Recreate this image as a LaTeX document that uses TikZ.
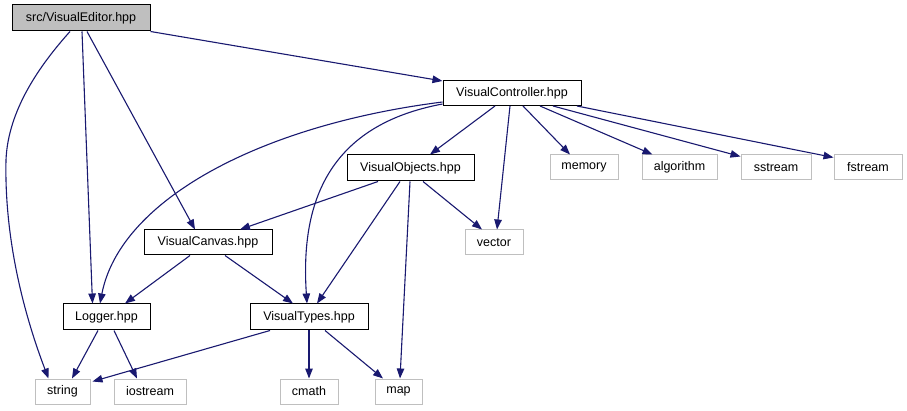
\documentclass[tikz,border=0pt]{standalone}
\usepackage{fontspec}
\setmainfont{Liberation Sans}
\usetikzlibrary{arrows.meta}
\definecolor{edgecol}{HTML}{191970}
\definecolor{sysgray}{HTML}{BFBFBF}
\begin{document}
\begin{tikzpicture}[x=1pt,y=-1pt,
  box/.style={draw=black,line width=1pt,inner sep=0pt,minimum height=25pt,font=\fontsize{12.5}{15}\selectfont},
  sysbox/.style={box,draw=sysgray},
  dep/.style={draw=edgecol,line width=1.1pt,-{Triangle[length=10pt,width=7.5pt]}}]
\useasboundingbox[fill=white] (0,0) rectangle (907,411);
% nodes
\node[box,fill=sysgray,minimum width=138pt,minimum height=26pt] (ve) at (81,18) {src/VisualEditor.hpp};
\node[box,minimum width=138pt] (vc) at (512,93) {VisualController.hpp};
\node[box,minimum width=127pt,minimum height=26pt] (vo) at (410.5,168) {VisualObjects.hpp};
\node[sysbox,minimum width=68pt] (memory) at (584,167.5) {memory};
\node[sysbox,minimum width=75pt] (algorithm) at (679.5,167.5) {algorithm};
\node[sysbox,minimum width=70pt] (sstream) at (776,167.5) {sstream};
\node[sysbox,minimum width=68pt] (fstream) at (868,167.5) {fstream};
\node[box,minimum width=128pt] (vcan) at (208,242.5) {VisualCanvas.hpp};
\node[sysbox,minimum width=58pt] (vector) at (494,242.5) {vector};
\node[box,minimum width=87pt,minimum height=26pt] (logger) at (106.5,317) {Logger.hpp};
\node[box,minimum width=118pt,minimum height=26pt] (vt) at (309,317) {VisualTypes.hpp};
\node[sysbox,minimum width=55pt] (string) at (62.5,391.5) {string};
\node[sysbox,minimum width=72pt] (iostream) at (150,391.5) {iostream};
\node[sysbox,minimum width=58pt] (cmath) at (309,391.5) {cmath};
\node[sysbox,minimum width=47pt] (map) at (398.5,391.5) {map};
% edges from VisualEditor
\draw[dep] (ve.south east) -- ([yshift=-1pt]vc.north west);
\draw[dep] ([xshift=-11pt]ve.south) .. controls (40,65) and (8,110) .. (6,160)
  .. controls (4,250) and (30,330) .. ([xshift=-14pt]string.north);
\draw[dep] ([xshift=1pt]ve.south) -- ([xshift=-14pt]logger.north);
\draw[dep] ([xshift=6pt]ve.south) -- ([xshift=-13pt]vcan.north);
% edges from VisualController
\draw[dep] ([yshift=-9pt]vc.west) .. controls (260,125) and (120,200) .. ([xshift=-6.5pt]logger.north);
\draw[dep] ([yshift=-11pt]vc.west) .. controls (330,125) and (300,200) .. ([xshift=-2pt]vt.north);
\draw[dep] ([xshift=-17pt]vc.south) -- ([xshift=19.5pt]vo.north);
\draw[dep] ([xshift=-2pt]vc.south) -- ([xshift=3pt]vector.north);
\draw[dep] ([xshift=11pt]vc.south) -- ([xshift=-14pt]memory.north);
\draw[dep] ([xshift=28pt]vc.south) -- ([xshift=-27pt]algorithm.north);
\draw[dep] ([xshift=41pt]vc.south) -- ([yshift=-2pt]sstream.north west);
\draw[dep] ([xshift=65pt]vc.south) -- ([yshift=-3pt]fstream.north west);
% edges from VisualObjects
\draw[dep] ([xshift=-32.5pt]vo.south) -- ([xshift=32pt]vcan.north);
\draw[dep] ([xshift=12.5pt]vo.south) -- ([xshift=-12pt]vector.north);
\draw[dep] ([xshift=-10.5pt]vo.south) -- ([xshift=8pt]vt.north);
\draw[dep] ([xshift=-0.5pt]vo.south) -- ([xshift=1.5pt]map.north);
% edges from VisualCanvas
\draw[dep] ([xshift=-18pt]vcan.south) -- ([xshift=18.5pt]logger.north);
\draw[dep] ([xshift=17pt]vcan.south) -- ([xshift=-16pt]vt.north);
% edges from Logger
\draw[dep] ([xshift=-8.5pt]logger.south) -- ([xshift=9.5pt]string.north);
\draw[dep] ([xshift=7.5pt]logger.south) -- ([xshift=-13pt]iostream.north);
% edges from VisualTypes
\draw[dep] ([xshift=-39pt]vt.south) -- ([xshift=2pt,yshift=-3pt]string.north east);
\draw[dep] (vt.south) -- (cmath.north);
\draw[dep] ([xshift=16pt]vt.south) -- ([xshift=-15.5pt]map.north);
\end{tikzpicture}
\end{document}
